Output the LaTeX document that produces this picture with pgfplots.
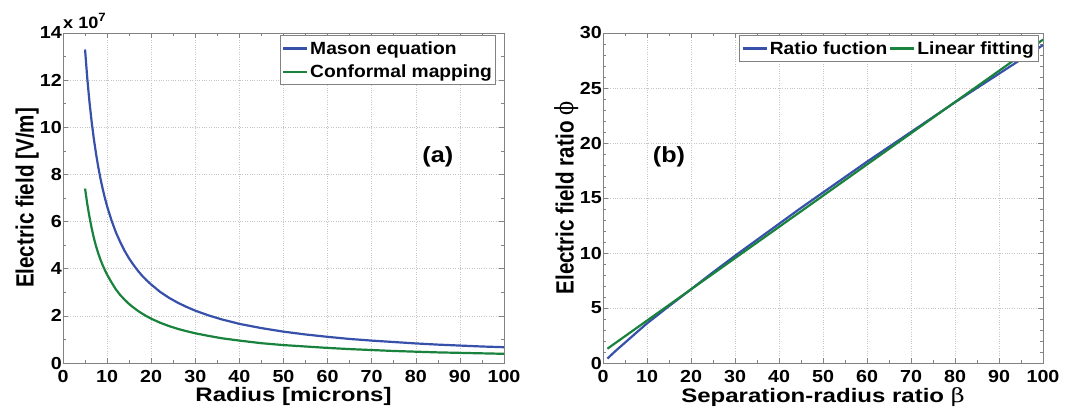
\documentclass[border=0pt]{standalone}
\usepackage{pgfplots}
\pgfplotsset{compat=1.18}
\usepackage{fontspec}
\setmainfont{Liberation Sans}
\newfontfamily\grk{DejaVu Serif}
\definecolor{cblue}{RGB}{55,80,170}
\definecolor{cgreen}{RGB}{25,130,60}
\definecolor{axgray}{RGB}{130,130,130}
\newcommand{\hs}[2]{\scalebox{#1}[1]{#2}}
\newcommand{\vs}[2]{\scalebox{1}[#1]{#2}}
\pgfplotsset{
  myax/.style={
    scale only axis, height=330bp,
    axis line style={axgray, line width=0.8bp},
    tick style={axgray, line width=0.6bp},
    major tick length=5bp, minor tick length=3bp,
    tick align=inside,
    grid=major,
    major grid style={dotted, gray!45, line width=0.5bp},
    tick label style={font=\fontsize{17.5}{19}\selectfont\bfseries, black, inner sep=1bp},
    xticklabel style={yshift=-6bp},
    xticklabel={\hs{1.13}{\pgfmathprintnumber{\tick}}},
    yticklabel={\hs{1.13}{\pgfmathprintnumber{\tick}}},
    /pgf/number format/assume math mode=true,
    xlabel style={font=\fontsize{19.6}{22}\selectfont\bfseries, inner sep=0pt, yshift=-4bp},
    ylabel style={font=\fontsize{20.7}{22}\selectfont\bfseries, inner sep=0pt},
    xmin=0, xmax=100, xtick={0,10,...,100}, minor x tick num=1,
    legend style={font=\fontsize{17.7}{20}\selectfont\bfseries, draw=axgray, line width=0.6bp, inner xsep=2bp, inner ysep=4bp},
    legend image code/.code={\draw[#1, line width=2.2bp] (0bp,0bp) -- (24bp,0bp);},
    every axis plot/.append style={line width=2.2bp},
  }
}
\begin{document}
\begin{tikzpicture}
\path[use as bounding box] (-63bp,-50bp) rectangle (1003bp,363bp);
\begin{axis}[myax, name=ax1, at={(0bp,0bp)}, anchor=south west, width=441bp,
  ymin=0, ymax=14, ytick={0,2,...,14}, minor y tick num=1,
  xlabel={\hs{1.23}{Radius [microns]}}, ylabel={\vs{1.21}{Electric field [V/m]}},
  xlabel style={xshift=10bp},
  legend style={at={(0.982,0.994)}, anchor=north east, row sep=5bp},
  legend cell align=left]
\addplot[cblue] coordinates {
(5,13.3) (5.5,12.09) (6,11.08) (6.5,10.23) (7,9.5) (7.5,8.87) (8,8.31) (8.5,7.82) (9,7.39) (9.5,7.0) (10,6.65) (11,6.05) (12,5.54) (13,5.12) (14,4.75) (15,4.43) (16,4.16) (17,3.91) (18,3.69) (19,3.5) (20,3.33) (22,3.02) (24,2.77) (26,2.56) (28,2.38) (30,2.22) (33,2.02) (36,1.85) (40,1.66) (45,1.48) (50,1.33) (55,1.21) (60,1.11) (65,1.02) (70,0.95) (75,0.89) (80,0.83) (85,0.78) (90,0.74) (95,0.70) (100,0.67)};
\addlegendentry{\hs{1.09}{Mason equation}}
\addplot[cgreen] coordinates {
(5,7.4) (5.5,6.75) (6,6.2) (6.5,5.72) (7,5.3) (7.5,4.95) (8,4.65) (8.5,4.38) (9,4.15) (9.5,3.94) (10,3.75) (11,3.42) (12,3.12) (13,2.88) (14,2.68) (15,2.5) (16,2.35) (17,2.21) (18,2.09) (19,1.98) (20,1.88) (22,1.71) (24,1.57) (26,1.45) (28,1.35) (30,1.26) (33,1.15) (36,1.05) (40,0.95) (45,0.84) (50,0.76) (55,0.70) (60,0.64) (65,0.59) (70,0.55) (75,0.51) (80,0.48) (85,0.45) (90,0.43) (95,0.41) (100,0.39)};
\addlegendentry{\hs{1.09}{Conformal mapping}}
\node[font=\fontsize{22}{24}\selectfont\bfseries] at (axis cs:85,8.74) {\hs{1.15}{(a)}};
\end{axis}
\node[anchor=south west, inner sep=0pt, font=\fontsize{16.5}{18}\selectfont\bfseries] at ([yshift=4bp]ax1.north west) {\hs{1.1}{x 10}\raisebox{7.5bp}{\fontsize{12}{13}\selectfont\hs{1.1}{7}}};
\begin{axis}[myax, at={(540bp,0bp)}, anchor=south west, width=440bp,
  ymin=0, ymax=30, ytick={0,5,...,30}, minor y tick num=4,
  xlabel={\hs{1.23}{Separation-radius ratio {\grk\mdseries β}}}, ylabel={\vs{1.21}{Electric field ratio {\grk\mdseries ϕ}}},
  legend style={at={(0.989,0.994)}, anchor=north east}, legend columns=2,
  legend cell align=left]
\addplot[cblue] coordinates {
(1,0.4) (2,0.78) (3,1.15) (4,1.5) (5,1.85) (7.5,2.73) (10,3.6) (15,5.17) (20,6.7) (25,8.25) (30,9.75) (35,11.2) (40,12.65) (45,14.1) (50,15.5) (55,16.9) (60,18.3) (65,19.65) (70,21.0) (75,22.35) (80,23.7) (85,25.0) (90,26.3) (95,27.6) (100,28.9)};
\addlegendentry{\hs{1.09}{Ratio fuction}\hspace{6bp}}
\addplot[cgreen] coordinates {(1,1.3) (100,29.4)};
\addlegendentry{\hs{1.09}{Linear fitting}}
\node[font=\fontsize{22}{24}\selectfont\bfseries] at (axis cs:15,18.7) {\hs{1.15}{(b)}};
\end{axis}
\end{tikzpicture}
\end{document}
